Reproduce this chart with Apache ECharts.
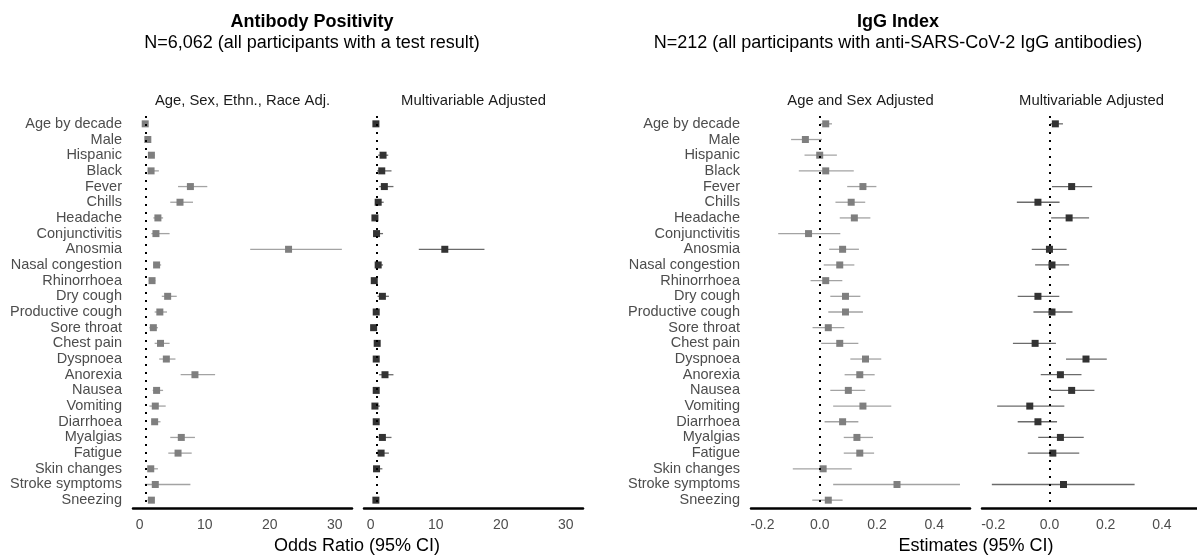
<!DOCTYPE html>
<html>
<head>
<meta charset="utf-8">
<script src="https://cdn.jsdelivr.net/npm/echarts@6/dist/echarts.min.js"></script>
<style>
html,body{margin:0;padding:0;background:#fff;}
#chart{width:1197px;height:555px;}
</style>
</head>
<body>
<div id="chart"></div>
<script>
// ---------- data ----------
const categories = ['Age by decade','Male','Hispanic','Black','Fever','Chills','Headache','Conjunctivitis','Anosmia','Nasal congestion','Rhinorrhoea','Dry cough','Productive cough','Sore throat','Chest pain','Dyspnoea','Anorexia','Nausea','Vomiting','Diarrhoea','Myalgias','Fatigue','Skin changes','Stroke symptoms','Sneezing'];

// Antibody positivity, odds ratios: age, sex, ethnicity, race adjusted
const abAdjEst = [0.85,1.25,1.8,1.75,7.8,6.2,2.8,2.5,22.9,2.6,1.9,4.3,3.1,2.1,3.2,4.1,8.5,2.6,2.4,2.3,6.4,5.9,1.7,2.4,1.8];
const abAdjLo  = [0.75,1.1,1.4,1.25,5.9,4.7,2.1,1.8,17.0,2.1,1.4,3.4,2.3,1.5,2.3,3.0,6.3,2.0,1.5,1.8,4.7,4.4,1.0,0.8,1.2];
const abAdjHi  = [0.95,1.45,2.3,2.95,10.4,8.2,3.6,4.6,31.1,3.3,2.4,5.7,4.2,2.8,4.6,5.5,11.6,3.6,4.0,3.2,8.5,8.0,2.8,7.8,2.2];

// Antibody positivity, odds ratios: multivariable adjusted
const abMvEst = [0.8,null,1.9,1.7,2.1,1.15,0.65,0.9,11.4,1.15,0.55,1.8,0.85,0.45,1.0,0.85,2.2,0.85,0.65,0.85,1.8,1.6,0.9,null,0.8];
const abMvLo  = [0.7,null,1.15,1.0,1.3,0.75,0.5,0.5,7.4,0.75,0.4,1.05,0.6,0.3,0.8,0.7,1.3,0.7,0.4,0.7,1.15,1.0,0.4,null,0.65];
const abMvHi  = [0.9,null,2.7,3.2,3.5,2.0,0.85,1.9,17.5,1.9,0.8,2.8,1.1,0.7,1.3,1.1,3.5,1.1,1.4,1.0,3.2,2.8,1.8,null,1.0];

// IgG index estimates: age and sex adjusted
const igAdjEst = [0.021,-0.05,0.0,0.021,0.151,0.11,0.121,-0.039,0.08,0.07,0.021,0.09,0.09,0.03,0.07,0.16,0.14,0.1,0.151,0.08,0.13,0.14,0.012,0.27,0.03];
const igAdjLo  = [0.002,-0.10,-0.053,-0.073,0.096,0.055,0.07,-0.145,0.033,0.014,-0.032,0.037,0.03,-0.025,0.005,0.107,0.087,0.037,0.047,0.017,0.084,0.084,-0.094,0.047,-0.026];
const igAdjHi  = [0.043,0.008,0.06,0.119,0.198,0.159,0.177,0.072,0.137,0.121,0.079,0.142,0.151,0.086,0.135,0.215,0.192,0.159,0.25,0.135,0.186,0.19,0.112,0.49,0.08];

// IgG index estimates: multivariable adjusted
const igMvEst = [0.021,null,null,null,0.079,-0.041,0.07,null,0.0,0.009,null,-0.041,0.009,null,-0.051,0.13,0.039,0.079,-0.07,-0.041,0.039,0.012,null,0.05,null];
const igMvLo  = [0.003,null,null,null,0.009,-0.116,0.006,null,-0.063,-0.051,null,-0.113,-0.057,null,-0.13,0.059,-0.031,0.003,-0.186,-0.113,-0.04,-0.077,null,-0.205,null];
const igMvHi  = [0.048,null,null,null,0.152,0.036,0.141,null,0.061,0.07,null,0.035,0.082,null,0.023,0.204,0.114,0.16,0.053,0.027,0.122,0.106,null,0.303,null];

const orTicks  = [0,10,20,30];
const estTicks = [-0.2,0.0,0.2,0.4];

// ---------- layout ----------
const FONT = 'Liberation Sans, Arial, Helvetica, sans-serif';
const GRID_TOP = 116, GRID_H = 392, GRID_W = 219;
const panels = [
  {left:133, min:-1.03, max:32.66, ticks:orTicks, dec:0, ref:1, est:abAdjEst, lo:abAdjLo, hi:abAdjHi, showCat:true,  pt:'#7f7f7f', ci:'#a3a3a3', title:'Age, Sex, Ethn., Race Adj.'},
  {left:364, min:-1.03, max:32.66, ticks:orTicks, dec:0, ref:1, est:abMvEst,  lo:abMvLo,  hi:abMvHi,  showCat:false, pt:'#333333', ci:'#6b6b6b', title:'Multivariable Adjusted'},
  {left:751, min:-0.24, max:0.525, ticks:estTicks, dec:1, ref:0, est:igAdjEst, lo:igAdjLo, hi:igAdjHi, showCat:true,  pt:'#7f7f7f', ci:'#a3a3a3', title:'Age and Sex Adjusted'},
  {left:982, min:-0.24, max:0.525, ticks:estTicks, dec:1, ref:0, est:igMvEst,  lo:igMvLo,  hi:igMvHi,  showCat:false, pt:'#333333', ci:'#6b6b6b', title:'Multivariable Adjusted'}
];

const grid = [], xAxis = [], yAxis = [], series = [], graphic = [];

function txt(x, y, s, size, weight, color) {
  graphic.push({type:'text', x:x, y:y, z:10,
    style:{text:s, font:(weight||'normal') + ' ' + size + 'px ' + FONT, fill:color||'#000', textAlign:'center', textVerticalAlign:'middle'}});
}

panels.forEach((p, i) => {
  grid.push({left:p.left, top:GRID_TOP, width:GRID_W, height:GRID_H, containLabel:false});
  xAxis.push({
    type:'value', gridIndex:i, min:p.min, max:p.max,
    axisLine:{show:true, onZero:false, lineStyle:{color:'#000', width:2.5}},
    axisTick:{show:false}, splitLine:{show:false},
    axisLabel:{
      customValues:p.ticks, color:'#4d4d4d', fontSize:14, fontFamily:FONT, margin:10,
      formatter: v => Number(v).toFixed(p.dec)
    }
  });
  yAxis.push({
    type:'category', gridIndex:i, data:categories, inverse:true, boundaryGap:true,
    axisLine:{show:false}, axisTick:{show:false}, splitLine:{show:false},
    axisLabel:{show:p.showCat, color:'#4d4d4d', fontSize:14.5, fontFamily:FONT, margin:11, interval:0}
  });
  const ciData = [], ptData = [];
  categories.forEach((c, k) => {
    if (p.est[k] !== null) {
      ciData.push([p.lo[k], p.hi[k], k]);
      ptData.push([p.est[k], c]);
    }
  });
  series.push({
    type:'custom', xAxisIndex:i, yAxisIndex:i, data:ciData, silent:true, z:2,
    renderItem: (params, api) => {
      const a = api.coord([api.value(0), api.value(2)]);
      const b = api.coord([api.value(1), api.value(2)]);
      return {type:'line', shape:{x1:a[0], y1:a[1], x2:b[0], y2:b[1]},
              style:{stroke:p.ci, lineWidth:1.3}};
    }
  });
  series.push({
    type:'scatter', xAxisIndex:i, yAxisIndex:i, data:ptData, symbol:'rect', symbolSize:7,
    itemStyle:{color:p.pt, opacity:1}, silent:true, z:3
  });
  series.push({
    type:'scatter', xAxisIndex:i, yAxisIndex:i, data:[], z:5, silent:true,
    markLine:{
      silent:true, symbol:['none','none'], label:{show:false},
      lineStyle:{color:'#000', type:[2,6], width:2, opacity:1},
      emphasis:{disabled:true},
      data:[{xAxis:p.ref}]
    }
  });
  txt(p.left + GRID_W/2, 101, p.title, 14.8, 'normal', '#1a1a1a');
});

// titles and axis names
txt(312, 22, 'Antibody Positivity', 18, 'bold');
txt(312, 43, 'N=6,062 (all participants with a test result)', 18);
txt(898, 22, 'IgG Index', 18, 'bold');
txt(898, 43, 'N=212 (all participants with anti-SARS-CoV-2 IgG antibodies)', 18);
txt(357, 546, 'Odds Ratio (95% CI)', 18);
txt(976, 546, 'Estimates (95% CI)', 18);

const chart = echarts.init(document.getElementById('chart'), null, {renderer:'canvas'});
chart.setOption({
  animation:false, backgroundColor:'#fff',
  grid, xAxis, yAxis, series, graphic
});
</script>
</body>
</html>
